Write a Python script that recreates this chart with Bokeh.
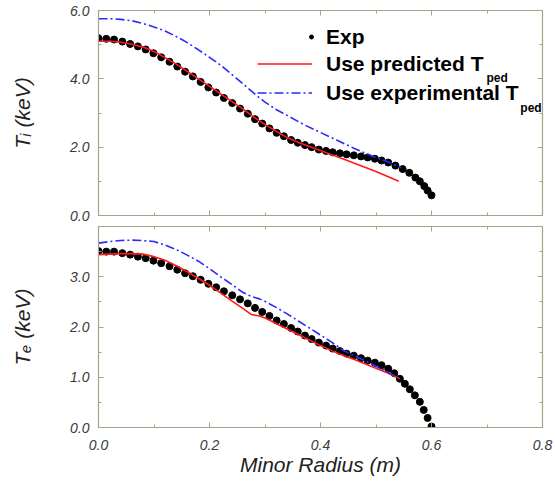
from bokeh.plotting import figure
from bokeh.layouts import column
from bokeh.models import (Range1d, LinearAxis, Label, Legend, LegendItem, FixedTicker,
                          PrintfTickFormatter, CustomLabelingPolicy)
from bokeh.embed import file_html
from bokeh.resources import INLINE

# ---------------- data ----------------
# Ion temperature (top panel)
r_exp_i = [0.000, 0.014, 0.028, 0.043, 0.057, 0.071, 0.085, 0.099, 0.113, 0.128,
           0.142, 0.156, 0.170, 0.184, 0.198, 0.212, 0.226, 0.241, 0.255, 0.269,
           0.282, 0.295, 0.308, 0.321, 0.334, 0.347, 0.359, 0.372, 0.384, 0.397,
           0.410, 0.422, 0.435, 0.447, 0.460, 0.473, 0.485, 0.498, 0.510, 0.522,
           0.535, 0.548, 0.560, 0.571, 0.579, 0.587, 0.593, 0.600]
ti_exp = [5.19, 5.17, 5.15, 5.09, 5.02, 4.95, 4.86, 4.75, 4.63, 4.50,
          4.36, 4.21, 4.07, 3.91, 3.75, 3.60, 3.44, 3.29, 3.13, 2.98,
          2.82, 2.69, 2.55, 2.42, 2.32, 2.21, 2.13, 2.06, 2.00, 1.93,
          1.89, 1.85, 1.82, 1.79, 1.76, 1.73, 1.70, 1.66, 1.61, 1.55,
          1.46, 1.36, 1.25, 1.11, 1.00, 0.86, 0.73, 0.59]

r_pred_i = [0.00, 0.02, 0.04, 0.06, 0.08, 0.10, 0.12, 0.14, 0.16, 0.18,
            0.20, 0.22, 0.24, 0.26, 0.28, 0.30, 0.32, 0.34, 0.36, 0.38,
            0.40, 0.42, 0.44, 0.46, 0.48, 0.50, 0.52, 0.541]
ti_pred = [5.10, 5.10, 5.07, 5.01, 4.93, 4.80, 4.62, 4.43, 4.22, 4.00,
           3.78, 3.56, 3.34, 3.12, 2.88, 2.66, 2.47, 2.28, 2.14, 2.02,
           1.90, 1.78, 1.66, 1.54, 1.41, 1.29, 1.15, 1.00]

r_expt_i = [0.00, 0.02, 0.04, 0.06, 0.08, 0.10, 0.12, 0.14, 0.16, 0.18,
            0.20, 0.22, 0.24, 0.26, 0.28, 0.30, 0.32, 0.34, 0.37, 0.40,
            0.43, 0.46, 0.49, 0.52, 0.545]
ti_expt = [5.76, 5.76, 5.74, 5.70, 5.62, 5.52, 5.40, 5.24, 5.06, 4.85,
           4.63, 4.40, 4.13, 3.86, 3.58, 3.32, 3.10, 2.93, 2.66, 2.43,
           2.20, 1.97, 1.76, 1.58, 1.40]

# Electron temperature (bottom panel)
r_exp_e = [0.000, 0.014, 0.028, 0.043, 0.057, 0.071, 0.085, 0.099, 0.113, 0.128,
           0.142, 0.156, 0.170, 0.184, 0.198, 0.212, 0.226, 0.241, 0.255, 0.269,
           0.282, 0.295, 0.308, 0.321, 0.334, 0.347, 0.359, 0.372, 0.384, 0.397,
           0.410, 0.422, 0.435, 0.447, 0.460, 0.473, 0.485, 0.498, 0.510, 0.522,
           0.533, 0.543, 0.552, 0.561, 0.570, 0.579, 0.586, 0.593, 0.600]
te_exp = [3.51, 3.50, 3.50, 3.47, 3.44, 3.40, 3.37, 3.32, 3.27, 3.21,
          3.14, 3.07, 3.01, 2.94, 2.86, 2.79, 2.71, 2.63, 2.55, 2.47,
          2.38, 2.30, 2.22, 2.13, 2.06, 1.98, 1.91, 1.83, 1.76, 1.69,
          1.63, 1.57, 1.52, 1.47, 1.43, 1.38, 1.33, 1.29, 1.24, 1.17,
          1.08, 0.97, 0.87, 0.76, 0.64, 0.51, 0.35, 0.19, 0.02]

r_pred_e = [0.00, 0.02, 0.04, 0.06, 0.08, 0.10, 0.12, 0.14, 0.16, 0.18,
            0.20, 0.22, 0.24, 0.26, 0.275, 0.29, 0.30, 0.32, 0.34, 0.36,
            0.38, 0.40, 0.42, 0.44, 0.46, 0.48, 0.50, 0.52, 0.543]
te_pred = [3.44, 3.45, 3.46, 3.46, 3.45, 3.40, 3.33, 3.22, 3.10, 2.97,
           2.83, 2.68, 2.52, 2.37, 2.25, 2.22, 2.18, 2.07, 1.96, 1.85,
           1.74, 1.63, 1.53, 1.44, 1.36, 1.27, 1.18, 1.09, 0.97]

r_expt_e = [0.00, 0.02, 0.04, 0.06, 0.08, 0.10, 0.12, 0.14, 0.16, 0.18,
            0.20, 0.22, 0.24, 0.26, 0.275, 0.29, 0.30, 0.32, 0.34, 0.36,
            0.38, 0.40, 0.42, 0.44, 0.46, 0.48, 0.50, 0.52, 0.543]
te_expt = [3.67, 3.70, 3.72, 3.73, 3.72, 3.70, 3.63, 3.54, 3.43, 3.31,
           3.16, 3.00, 2.85, 2.69, 2.61, 2.56, 2.51, 2.39, 2.26, 2.12,
           1.98, 1.84, 1.70, 1.54, 1.43, 1.33, 1.22, 1.11, 0.97]

x_major = [0.0, 0.2, 0.4, 0.6, 0.8]
x_minor = [0.1, 0.3, 0.5, 0.7]
ti_major = [0.0, 2.0, 4.0, 6.0]
ti_minor = [1.0, 3.0, 5.0]
te_major = [0.0, 1.0, 2.0, 3.0]
te_minor = [0.5, 1.5, 2.5, 3.5]

# ---------------- style ----------------
FRAME = "#a6a38b"
TICKTXT = "#3a3a3a"
LBL = "#222222"
RED = "#ff1a1a"
BLUE = "#2a2aff"
FONT = "Liberation Sans"


def style_axis(ax, show_labels, standoff=8):
    ax.axis_line_color = FRAME
    ax.major_tick_line_color = FRAME
    ax.minor_tick_line_color = FRAME
    ax.major_tick_in = 5
    ax.major_tick_out = 0
    ax.minor_tick_in = 3
    ax.minor_tick_out = 0
    ax.axis_label = None
    ax.formatter = PrintfTickFormatter(format="%.1f")
    ax.axis_label_text_font = FONT
    ax.axis_label_text_font_style = "italic"
    ax.axis_label_text_font_size = "21px"
    ax.axis_label_text_color = LBL
    if show_labels:
        ax.major_label_text_font = FONT
        ax.major_label_text_font_style = "italic"
        ax.major_label_text_font_size = "14px"
        ax.major_label_text_color = TICKTXT
        ax.major_label_standoff = standoff
    else:
        ax.major_label_text_font_size = "1px"
        ax.major_label_standoff = 0
        ax.major_label_policy = CustomLabelingPolicy(code="return []")


def make_fig(height, y_end, y_major, y_minor, b_top, b_bottom, x_labels):
    p = figure(width=555, height=height, x_range=Range1d(0, 0.8),
               y_range=Range1d(0, y_end), output_backend="svg",
               toolbar_location=None, min_border_left=98, min_border_right=13,
               min_border_top=b_top, min_border_bottom=b_bottom,
               x_axis_location=None, y_axis_location=None)
    p.grid.visible = False
    p.outline_line_color = FRAME
    p.outline_line_width = 1.2
    p.background_fill_color = "white"
    p.border_fill_color = "white"
    axes = {}
    for side, ticks, minors, labels, so in [
            ("below", x_major, x_minor, x_labels, 12),
            ("left", y_major, y_minor, True, 9),
            ("above", x_major, x_minor, False, 0),
            ("right", y_major, y_minor, False, 0)]:
        ax = LinearAxis(ticker=FixedTicker(ticks=ticks, minor_ticks=minors))
        style_axis(ax, labels, standoff=so)
        p.add_layout(ax, side)
        axes[side] = ax
    return p, axes


# ---------------- top panel: Ti ----------------
p1, ax1 = make_fig(222, 6.0, ti_major, ti_minor, 10, 7, False)
ax1["left"].axis_label = "T\u1d62 (keV)"
ax1["left"].axis_label_standoff = 33
r_exp1 = p1.scatter(r_exp_i, ti_exp, size=7, color="black")
r_pred1 = p1.line(r_pred_i, ti_pred, line_color=RED, line_width=1.6)
r_expt1 = p1.line(r_expt_i, ti_expt, line_color=BLUE, line_width=1.6,
                  line_dash="9 3 2 3")

leg_common = dict(padding=0, margin=0, border_line_color=None,
                  background_fill_alpha=0, label_text_font=FONT,
                  label_text_font_style="bold", label_text_font_size="21px",
                  label_text_color="black", glyph_height=25, label_height=25,
                  spacing=4)
leg1 = Legend(items=[LegendItem(label="Exp", renderers=[r_exp1])],
              location=(208, 166), glyph_width=10, label_standoff=10,
              **leg_common)
leg2 = Legend(items=[LegendItem(label="Use predicted T", renderers=[r_pred1]),
                     LegendItem(label="Use experimental T", renderers=[r_expt1])],
              location=(159, 110), glyph_width=55, label_standoff=14,
              **leg_common)
p1.add_layout(leg1)
p1.add_layout(leg2)

for xx, yy in [(0.699, 4.01), (0.760, 3.16)]:
    p1.add_layout(Label(x=xx, y=yy, text="ped", text_font=FONT,
                        text_font_style="bold", text_font_size="12px",
                        text_color="black", text_baseline="alphabetic"))

# ---------------- bottom panel: Te ----------------
p2, ax2 = make_fig(259, 4.0, te_major, te_minor, 1, 54, True)
ax2["left"].axis_label = "T\u2091 (keV)"
ax2["left"].axis_label_standoff = 33
ax2["below"].axis_label = "Minor Radius (m)"
ax2["below"].axis_label_standoff = 0
p2.scatter(r_exp_e, te_exp, size=7, color="black")
p2.line(r_pred_e, te_pred, line_color=RED, line_width=1.6)
p2.line(r_expt_e, te_expt, line_color=BLUE, line_width=1.6, line_dash="9 3 2 3")

layout = column(p1, p2)
open("out.html", "w").write(file_html(layout, INLINE))
